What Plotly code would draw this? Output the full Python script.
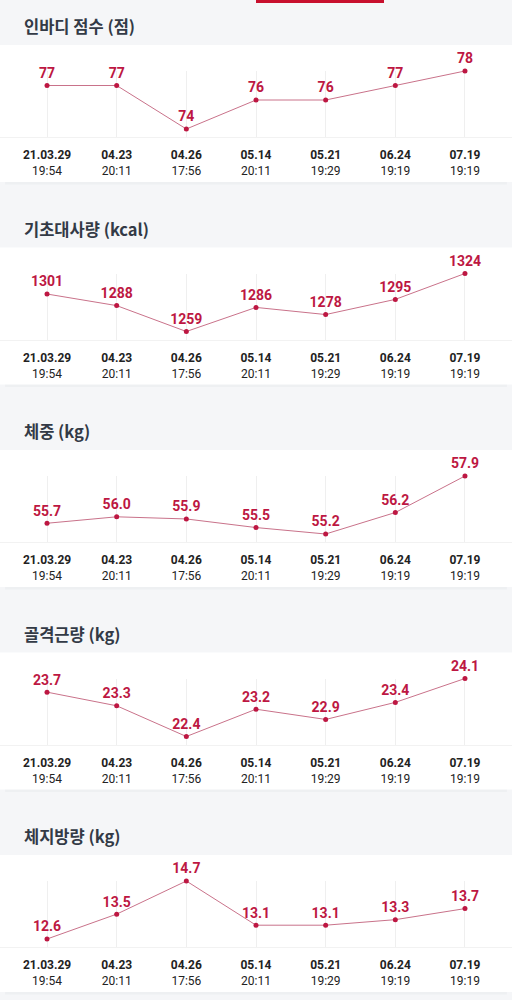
import plotly.graph_objects as go

# x categories (date + time per measurement)
dates = ["21.03.29", "04.23", "04.26", "05.14", "05.21", "06.24", "07.19"]
times = ["19:54", "20:11", "17:56", "20:11", "19:29", "19:19", "19:19"]

titles = ["인바디 점수 (점)", "기초대사량 (kcal)", "체중 (kg)", "골격근량 (kg)", "체지방량 (kg)"]

score = [77, 77, 74, 76, 76, 77, 78]
bmr = [1301, 1288, 1259, 1286, 1278, 1295, 1324]
weight = [55.7, 56.0, 55.9, 55.5, 55.2, 56.2, 57.9]
muscle = [23.7, 23.3, 22.4, 23.2, 22.9, 23.4, 24.1]
fat = [12.6, 13.5, 14.7, 13.1, 13.1, 13.3, 13.7]

series = [score, bmr, weight, muscle, fat]
fmts = ["{:d}", "{:d}", "{:.1f}", "{:.1f}", "{:.1f}"]

W, H = 512, 1000
RED = "#bd1742"
LINE = "#c9728a"
BG = "#f5f6f8"
FONT = "Roboto, 'Noto Sans CJK KR', sans-serif"

ticktext = ["<b>%s</b><br>%s" % (d, t) for d, t in zip(dates, times)]
xs = list(range(len(dates)))


def py(px):
    return 1 - px / H


fig = go.Figure()
shapes = []
annotations = []

for k, (vals, title, fmt) in enumerate(zip(series, titles, fmts)):
    top = 45 + 202.5 * k
    n = k + 1
    xa = "x" if n == 1 else "x%d" % n
    ya = "y" if n == 1 else "y%d" % n

    # soft shadow under the card, then the white card
    shapes.append(dict(type="rect", xref="paper", yref="paper", x0=0.01, x1=0.99,
                       y0=py(top + 139.5), y1=py(top + 130), fillcolor="#eef0f2",
                       line=dict(width=0), layer="below"))
    shapes.append(dict(type="rect", xref="paper", yref="paper", x0=0, x1=1,
                       y0=py(top + 137), y1=py(top), fillcolor="white",
                       line=dict(width=0), layer="below"))
    annotations.append(dict(xref="paper", yref="paper", x=22 / W, y=py(top - 19),
                            text="<b>%s</b>" % title, showarrow=False,
                            xanchor="left", yanchor="middle",
                            font=dict(family="'Noto Sans CJK KR'", size=16.5, color="#333a46")))

    lo, hi = min(vals), max(vals)
    span = hi - lo
    fig.add_trace(go.Scatter(
        x=xs, y=vals, xaxis=xa, yaxis=ya,
        mode="lines+markers+text",
        line=dict(color=LINE, width=1),
        marker=dict(color=RED, size=5),
        text=[fmt.format(v) for v in vals],
        textposition="top center",
        textfont=dict(family=FONT, size=14, color=RED, weight="bold"),
        cliponaxis=False, showlegend=False, hoverinfo="skip",
    ))

    fig.layout[("xaxis" if n == 1 else "xaxis%d" % n)] = dict(
        domain=[0, 1], anchor=ya, range=[-0.675, 6.675],
        tickvals=xs, ticktext=ticktext, showgrid=True, gridcolor="#efefef",
        zeroline=False, showline=True, linecolor="#f2f2f2", ticks="",
        ticklabelstandoff=7,
        tickfont=dict(family=FONT, size=12, color="#222222"), fixedrange=True,
    )
    fig.layout[("yaxis" if n == 1 else "yaxis%d" % n)] = dict(
        domain=[py(top + 92), py(top + 26)],
        range=[lo - span * 8 / 58, hi], anchor=xa,
        showgrid=False, zeroline=False, showticklabels=False, fixedrange=True,
    )

# red tab indicator on top
shapes.append(dict(type="rect", xref="paper", yref="paper", x0=256 / W, x1=384 / W,
                   y0=py(3), y1=1, fillcolor="#c8102e", line=dict(width=0)))

fig.update_layout(
    width=W, height=H, margin=dict(l=0, r=0, t=0, b=0),
    paper_bgcolor=BG, plot_bgcolor="rgba(0,0,0,0)",
    shapes=shapes, annotations=annotations, showlegend=False,
)

fig.write_html("out.html", config={"displayModeBar": False},
               post_script="document.body.style.margin='0';")
